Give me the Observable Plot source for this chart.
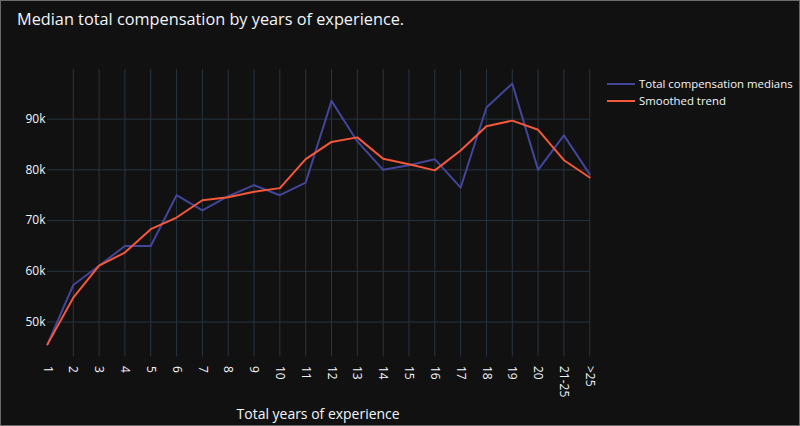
<!DOCTYPE html>
<html>
<head>
<meta charset="utf-8">
<script src="https://cdn.jsdelivr.net/npm/d3@7"></script>
<script src="https://cdn.jsdelivr.net/npm/@observablehq/plot@0.6"></script>
<style>
  html, body { margin: 0; padding: 0; background: #111111; }
  #wrap { position: relative; width: 798px; height: 424px; border: 1px solid #6a6a6a; overflow: hidden; background: #111111; font-family: "Open Sans", sans-serif; color: #f2f5fa; }
  #title { position: absolute; left: 16px; top: 7px; font-size: 16.3px; color: #f2f5fa; white-space: nowrap; }
  #legend { position: absolute; left: 606px; top: 74px; font-size: 11.4px; color: #f2f5fa; white-space: nowrap; }
  #legend .row { display: flex; align-items: center; height: 17px; }
  #legend svg { margin-right: 4px; }
  #chart { position: absolute; left: -1px; top: -1px; }
</style>
</head>
<body>
<div id="wrap">
  <div id="chart"></div>
  <div id="title">Median total compensation by years of experience.</div>
  <div id="legend"></div>
</div>
<script>
const categories = ["1","2","3","4","5","6","7","8","9","10","11","12","13","14","15","16","17","18","19","20","21-25",">25"];
const medians = [45600, 57300, 61100, 65000, 65000, 75000, 72000, 74800, 77000, 75000, 77500, 93600, 85600, 80000, 80900, 82100, 76500, 92300, 97000, 80000, 86800, 79100];
const smoothed = [45600, 54800, 61100, 63700, 68300, 70600, 74000, 74600, 75700, 76400, 82100, 85500, 86400, 82200, 81100, 79900, 83800, 88600, 89700, 87900, 81900, 78500];
const seriesNames = ["Total compensation medians", "Smoothed trend"];
const seriesColors = ["#424599", "#f5583a"];
const yTicks = [50000, 60000, 70000, 80000, 90000];

const rows = [];
categories.forEach((c, i) => {
  rows.push({cat: c, value: medians[i], series: seriesNames[0]});
  rows.push({cat: c, value: smoothed[i], series: seriesNames[1]});
});

const chart = Plot.plot({
  width: 800,
  height: 426,
  marginLeft: 47,
  marginRight: 210,
  marginTop: 69,
  marginBottom: 69,
  style: { background: "#111111", color: "#f2f5fa", fontFamily: "Open Sans, sans-serif", fontSize: "12px" },
  x: { type: "point", domain: categories, padding: 0, round: false, label: null },
  y: { domain: [43100, 99800], label: null },
  color: { domain: seriesNames, range: seriesColors },
  marks: [
    Plot.ruleX(categories.slice(1), { stroke: "#283442", strokeWidth: 1 }),
    Plot.ruleY(yTicks, { stroke: "#283442", strokeWidth: 1 }),
    Plot.axisY(yTicks, { tickSize: 0, tickPadding: 2, tickFormat: d => (d / 1000) + "k", fontSize: 12, fill: "#f2f5fa", label: null }),
    Plot.axisX({ tickSize: 0, tickPadding: 9, tickRotate: 90, fontSize: 12, fill: "#f2f5fa", label: null }),
    Plot.line(rows, { x: "cat", y: "value", z: "series", stroke: "series", strokeWidth: 2, curve: "linear" })
  ]
});
document.getElementById("chart").appendChild(chart);

const svg = d3.select(chart);
const xs = chart.scale("x");
const x0 = xs.apply(categories[0]), x1 = xs.apply(categories[categories.length - 1]);
svg.append("text")
  .attr("x", (x0 + x1) / 2)
  .attr("y", 420)
  .attr("text-anchor", "middle")
  .attr("fill", "#f2f5fa")
  .style("font-size", "14px")
  .text("Total years of experience");

const legend = document.getElementById("legend");
seriesNames.forEach((name, i) => {
  const row = document.createElement("div");
  row.className = "row";
  row.innerHTML = `<svg width="28" height="6"><line x1="0" y1="3" x2="28" y2="3" stroke="${seriesColors[i]}" stroke-width="2"/></svg><span>${name}</span>`;
  legend.appendChild(row);
});
</script>
</body>
</html>
